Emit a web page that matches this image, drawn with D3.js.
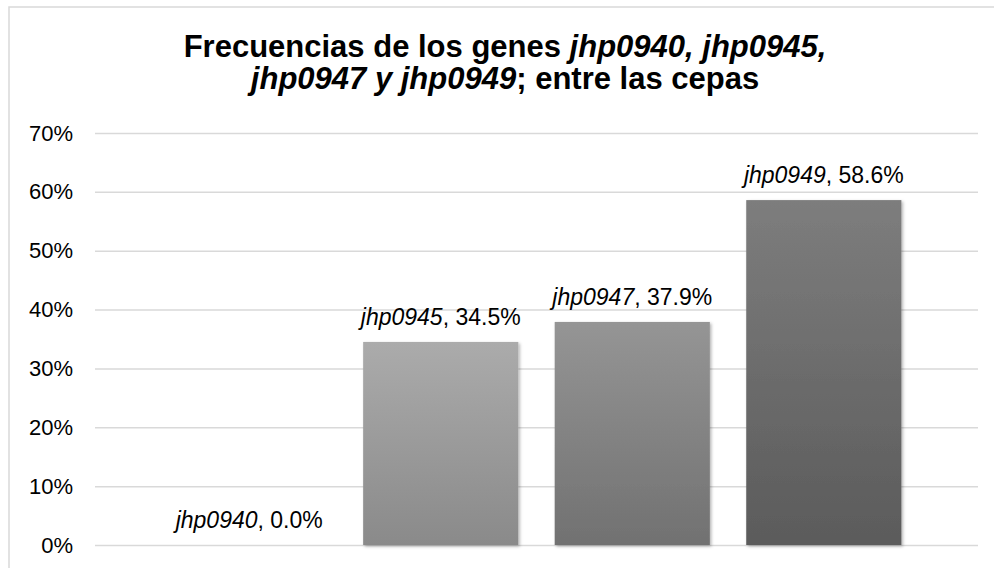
<!DOCTYPE html>
<html><head><meta charset="utf-8">
<script src="https://cdn.jsdelivr.net/npm/d3@7"></script>
<style>
html,body{margin:0;padding:0;background:#fff;}
svg{display:block;font-family:"Liberation Sans",Arial,sans-serif;}
</style></head>
<body>
<svg id="chart" width="994" height="568"></svg>
<script>
const genes = ["jhp0940", "jhp0945", "jhp0947", "jhp0949"];
const values = [0.0, 34.5, 37.9, 58.6];
const yTicks = [0, 10, 20, 30, 40, 50, 60, 70];
const titleLine1 = [["Frecuencias de los genes ", false], ["jhp0940, jhp0945,", true]];
const titleLine2 = [["jhp0947 y jhp0949", true], ["; entre las cepas", false]];

const svg = d3.select("#chart");
const W = 994, H = 568;
const plot = {left: 95, right: 978, top: 133, bottom: 545};

// border
svg.append("rect").attr("x", 9).attr("y", 7).attr("width", W + 20).attr("height", H + 20)
  .attr("fill", "#fff").attr("stroke", "#d9d9d9").attr("stroke-width", 1.5);

const defs = svg.append("defs");
const topCols = ["#c4c4c4", "#ababab", "#959595", "#7d7d7d"];
const botCols = ["#a5a5a5", "#8a8a8a", "#717171", "#5b5b5b"];
genes.forEach((g, i) => {
  const lg = defs.append("linearGradient").attr("id", "grad" + i)
    .attr("x1", 0).attr("y1", 0).attr("x2", 0).attr("y2", 1);
  lg.append("stop").attr("offset", "0%").attr("stop-color", topCols[i]);
  lg.append("stop").attr("offset", "100%").attr("stop-color", botCols[i]);
});
const f = defs.append("filter").attr("id", "shadow").attr("x", "-10%").attr("y", "-10%").attr("width", "130%").attr("height", "130%");
f.append("feDropShadow").attr("dx", 1.5).attr("dy", 1.5).attr("stdDeviation", 1.8)
  .attr("flood-color", "#000").attr("flood-opacity", 0.3);

const y = d3.scaleLinear().domain([0, 70]).range([plot.bottom, plot.top]);
const x = d3.scaleBand().domain(genes).range([plot.left, plot.right])
  .paddingInner(0.19).paddingOuter(0.4);

// gridlines
const yAxis = d3.axisLeft(y).tickValues(yTicks).tickFormat(d => d + "%")
  .tickSize(-(plot.right - plot.left)).tickPadding(22);
const ga = svg.append("g").attr("transform", `translate(${plot.left},0)`).call(yAxis);
ga.select(".domain").remove();
ga.selectAll(".tick line").attr("stroke", "#d9d9d9").attr("stroke-width", 1.5);
ga.selectAll(".tick text").attr("fill", "#000").attr("font-size", 22)
  .attr("font-family", '"Liberation Sans",Arial,sans-serif');

// bars
svg.append("g").selectAll("rect").data(genes).join("rect")
  .attr("x", d => x(d)).attr("width", x.bandwidth())
  .attr("y", (d, i) => y(values[i]))
  .attr("height", (d, i) => y(0) - y(values[i]))
  .attr("fill", (d, i) => `url(#grad${i})`)
  .attr("filter", "url(#shadow)");

// data labels
const lbl = svg.append("g").selectAll("text").data(genes).join("text")
  .attr("x", d => x(d) + x.bandwidth() / 2)
  .attr("y", (d, i) => y(values[i]) - 17)
  .attr("text-anchor", "middle").attr("font-size", 23).attr("fill", "#000");
lbl.append("tspan").attr("font-style", "italic").text(d => d);
lbl.append("tspan").text((d, i) => ", " + values[i].toFixed(1) + "%");

// title
function titleLine(parts, yy) {
  const t = svg.append("text").attr("x", 505).attr("y", yy).attr("text-anchor", "middle")
    .attr("font-size", 31).attr("font-weight", "bold").attr("fill", "#000");
  parts.forEach(([s, it]) => t.append("tspan").attr("font-style", it ? "italic" : "normal").text(s));
}
titleLine(titleLine1, 57);
titleLine(titleLine2, 89);
</script>
</body></html>
